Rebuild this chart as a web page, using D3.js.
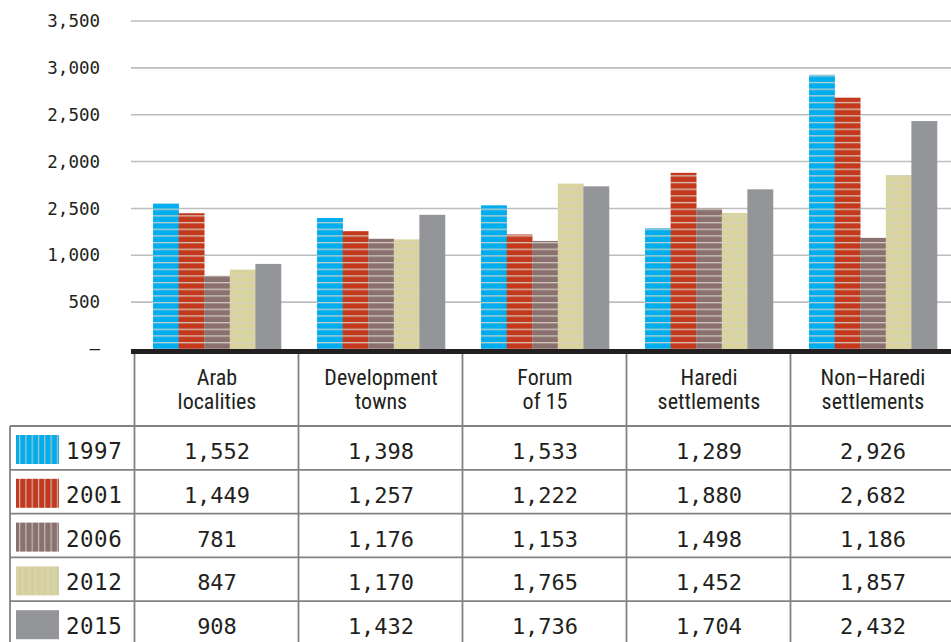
<!DOCTYPE html>
<html>
<head>
<meta charset="utf-8">
<script src="https://cdn.jsdelivr.net/npm/d3@7/dist/d3.min.js"></script>
<style>
  html, body { margin: 0; padding: 0; background: #fff; }
  svg { display: block; }
  .mono { font-family: "DejaVu Sans Mono", monospace; fill: #231f20; }
  .head { font-family: "Liberation Sans Narrow", "Roboto Condensed", "Liberation Sans", sans-serif; fill: #231f20; }
</style>
</head>
<body>
<svg id="chart" width="951" height="642"></svg>
<script>
// Categories (table columns) and their two-line headers
const categories = ["Arab localities", "Development towns", "Forum of 15", "Haredi settlements", "Non-Haredi settlements"];
const headerLines = [["Arab", "localities"], ["Development", "towns"], ["Forum", "of 15"], ["Haredi", "settlements"], ["Non\u2013Haredi", "settlements"]];

// Years (series)
const years = ["1997", "2001", "2006", "2012", "2015"];

// Values per year, one per category
const v1997 = [1552, 1398, 1533, 1289, 2926];
const v2001 = [1449, 1257, 1222, 1880, 2682];
const v2006 = [781, 1176, 1153, 1498, 1186];
const v2012 = [847, 1170, 1765, 1452, 1857];
const v2015 = [908, 1432, 1736, 1704, 2432];
const seriesValues = [v1997, v2001, v2006, v2012, v2015];

// Y axis ticks and their printed labels
const yTicks = [0, 500, 1000, 1500, 2000, 2500, 3000, 3500];
const yTickLabels = ["\u2013", "500", "1,000", "2,500", "2,000", "2,500", "3,000", "3,500"];

const colors = ["#00aeef", "#c4391e", "#8a7170", "#d9d39e", "#939598"];
const striped = [true, true, true, true, false];

const svg = d3.select("#chart");
const W = 951;

// Layout
const plotLeft = 131, colLeft = 135, colRight = 955;
const yScale = d3.scaleLinear().domain([0, 3500]).range([349, 21]);
const x0 = d3.scaleBand().domain(categories).range([colLeft, colRight]).paddingInner(0.22).paddingOuter(0.11);
const x1 = d3.scaleBand().domain(years).range([0, x0.bandwidth()]).padding(0);

// Patterns: horizontal stripes for bars, vertical stripes for legend swatches
const defs = svg.append("defs");
const stripeGap = 6.67;
years.forEach((yr, i) => {
  const ph = defs.append("pattern").attr("id", "h" + yr)
    .attr("patternUnits", "userSpaceOnUse")
    .attr("x", 0).attr("y", 342 - stripeGap * 51)
    .attr("width", 10).attr("height", stripeGap);
  ph.append("rect").attr("width", 10).attr("height", stripeGap).attr("fill", colors[i]);
  ph.append("rect").attr("y", 0).attr("width", 10).attr("height", 1.3).attr("fill", "#d6d2c6").attr("opacity", 0.9);

  const pv = defs.append("pattern").attr("id", "v" + yr)
    .attr("patternUnits", "userSpaceOnUse")
    .attr("x", 19).attr("y", 0)
    .attr("width", 6.3).attr("height", 10);
  pv.append("rect").attr("width", 6.3).attr("height", 10).attr("fill", colors[i]);
  pv.append("rect").attr("x", 0).attr("width", 1.2).attr("height", 10).attr("fill", "#c9c6bd").attr("opacity", 0.9);
});

// Gridlines
svg.append("g").selectAll("line").data(yTicks.filter(d => d > 0)).join("line")
  .attr("x1", plotLeft).attr("x2", W)
  .attr("y1", d => yScale(d)).attr("y2", d => yScale(d))
  .attr("stroke", "#bcbec0").attr("stroke-width", 1.6);

// Y axis labels
const yAxis = d3.axisLeft(yScale).tickValues(yTicks)
  .tickFormat((d, i) => yTickLabels[i]).tickSize(0).tickPadding(0);
const gy = svg.append("g").attr("transform", "translate(100,0)").call(yAxis);
gy.select(".domain").remove();
gy.selectAll("text").attr("class", "mono").attr("font-size", "17.5px")
  .attr("font-family", "DejaVu Sans Mono, monospace").attr("fill", "#231f20");

// Bars
const groups = svg.append("g").selectAll("g").data(categories).join("g")
  .attr("transform", d => `translate(${x0(d)},0)`);
groups.selectAll("rect").data((c, ci) => years.map((yr, si) => ({ yr, si, v: seriesValues[si][ci] })))
  .join("rect")
  .attr("x", d => x1(d.yr))
  .attr("width", x1.bandwidth() + 0.3)
  .attr("y", d => yScale(d.v))
  .attr("height", d => yScale(0) - yScale(d.v))
  .attr("fill", d => striped[d.si] ? `url(#h${d.yr})` : colors[d.si]);

// Baseline
svg.append("rect").attr("x", plotLeft).attr("y", yScale(0)).attr("width", W - plotLeft).attr("height", 5).attr("fill", "#231f20");

// Table
const tableTop = 354, headBottom = 426, rowH = 43.8, tableLeft = 10;
const rowTops = years.map((d, i) => headBottom + i * rowH);
const lineColor = "#808285";
const tbl = svg.append("g");

// Vertical column separators
tbl.selectAll("line.col").data(categories).join("line").attr("class", "col")
  .attr("x1", d => x0(d) - x0.step() * x0.paddingInner() / 2 - 0.5)
  .attr("x2", d => x0(d) - x0.step() * x0.paddingInner() / 2 - 0.5)
  .attr("y1", tableTop).attr("y2", 642)
  .attr("stroke", lineColor).attr("stroke-width", 1.8);
// Left border of the legend column
tbl.append("line").attr("x1", tableLeft).attr("x2", tableLeft).attr("y1", headBottom).attr("y2", 642)
  .attr("stroke", lineColor).attr("stroke-width", 1.8);
// Horizontal row separators
tbl.selectAll("line.row").data(rowTops).join("line").attr("class", "row")
  .attr("x1", tableLeft).attr("x2", W)
  .attr("y1", d => d).attr("y2", d => d)
  .attr("stroke", lineColor).attr("stroke-width", 1.8);

// Column headers
const colCenter = d => x0(d) + x0.bandwidth() / 2;
categories.forEach((c, i) => {
  const t = tbl.append("text").attr("class", "head").attr("text-anchor", "middle").attr("font-size", "22px");
  headerLines[i].forEach((ln, j) => {
    t.append("tspan").attr("x", colCenter(c)).attr("y", 385 + j * 23.5).text(ln);
  });
});

// Legend column: swatch + year
years.forEach((yr, i) => {
  const top = rowTops[i];
  tbl.append("rect").attr("x", 16).attr("y", top + 9).attr("width", 43).attr("height", 29)
    .attr("fill", striped[i] ? `url(#v${yr})` : colors[i]);
  tbl.append("text").attr("class", "mono").attr("x", 66).attr("y", top + 33)
    .attr("font-size", "22.5px").attr("letter-spacing", "0.5px").text(yr);
});

// Values
const fmt = d3.format(",");
years.forEach((yr, si) => {
  tbl.selectAll(null).data(categories).join("text").attr("class", "mono")
    .attr("text-anchor", "middle")
    .attr("x", d => colCenter(d))
    .attr("y", rowTops[si] + 33)
    .attr("font-size", "22px")
    .text((d, ci) => fmt(seriesValues[si][ci]));
});
</script>
</body>
</html>
